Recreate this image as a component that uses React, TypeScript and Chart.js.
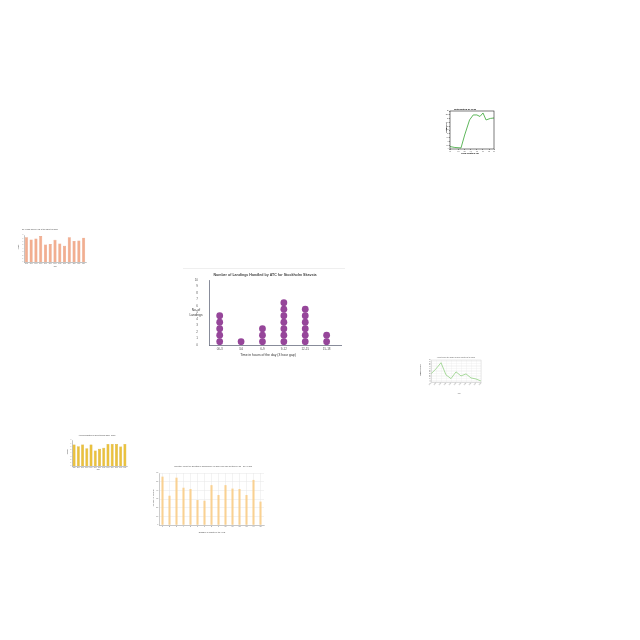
import React, { useEffect, useRef } from 'react';
import { Chart, registerables } from 'chart.js';
Chart.register(...registerables);

const FONT = "'Liberation Sans', Arial, sans-serif";

// ---- Main dot plot: landings ----
const landingSlots = ['00-3', '3-6', '6-9', '9-12', '12-15', '15-18'];
const landingCounts = [5, 1, 3, 7, 6, 2];

// ---- Top-right line chart ----
const sepalLengths = [4.3, 4.7, 5.2, 5.5, 5.9, 6.2, 6.5, 6.75, 7.0, 7.25, 7.6, 7.9];
const sepalFreq = [1.6, 1.0, 0.7, 9.2, 19.1, 22.4, 22.4, 21.4, 23.7, 19.1, 20.1, 20.4];

// ---- Salmon bar chart ----
const salmonYears = ['2005', '2006', '2007', '2008', '2009', '2010', '2011', '2012', '2013', '2014', '2015', '2016', '2017'];
const salmonValues = [7.3, 6.7, 7.0, 7.7, 5.2, 5.3, 6.6, 5.5, 4.8, 7.3, 6.2, 6.4, 7.2];

// ---- Gold bar chart ----
const goldYears = ['2005', '2006', '2007', '2008', '2009', '2010', '2011', '2012', '2013', '2014', '2015', '2016', '2017'];
const goldValues = [6.6, 6.1, 6.6, 5.5, 6.6, 4.8, 5.3, 5.6, 6.8, 6.8, 6.8, 6.0, 6.8];

// ---- Orange bar chart ----
const monthLabels = ['1', '2', '3', '4', '5', '6', '7', '8', '9', '10', '11', '12', '13', '14', '15'];
const deathValues = [55.8, 33.8, 54.6, 43, 41.5, 28.8, 28, 46, 34.6, 46, 42, 41.5, 34.6, 52, 27];

// ---- Green line chart ----
const greenLabels = ['2008', '2009', '2010', '2011', '2012', '2013', '2014', '2015', '2016', '2017', '2018'];
const greenValues = [24, 39, 57, 21, 10, 30, 18, 24, 12, 9, 3];

type TextItem = { text: string; x: number; y: number; size: number; bold?: boolean; color?: string; rotate?: number };

function textPlugin(items: TextItem[]) {
  return {
    id: 'overlayText',
    afterDraw(chart: any) {
      const ctx = chart.ctx;
      items.forEach((it) => {
        ctx.save();
        ctx.font = `${it.bold ? 'bold ' : ''}${it.size}px ${FONT}`;
        ctx.fillStyle = it.color || '#333';
        ctx.textAlign = 'center';
        ctx.textBaseline = 'middle';
        ctx.translate(it.x, it.y);
        if (it.rotate) ctx.rotate(it.rotate);
        ctx.fillText(it.text, 0, 0);
        ctx.restore();
      });
    },
  };
}

// draws category labels under the x axis at the positions the scale gives
function categoryLabelPlugin(labels: string[], size: number, color: string, gap: number) {
  return {
    id: 'catLabels',
    afterDraw(chart: any) {
      const xs = chart.scales.x;
      const ctx = chart.ctx;
      ctx.save();
      ctx.font = `${size}px ${FONT}`;
      ctx.fillStyle = color;
      ctx.textAlign = 'center';
      ctx.textBaseline = 'top';
      labels.forEach((l, i) => ctx.fillText(l, xs.getPixelForValue(i), xs.top + gap));
      ctx.restore();
    },
  };
}

function framePlugin(color: string, width: number) {
  return {
    id: 'frame',
    afterDatasetsDraw(chart: any) {
      const { left, top, right, bottom } = chart.chartArea;
      const ctx = chart.ctx;
      ctx.save();
      ctx.strokeStyle = color;
      ctx.lineWidth = width;
      ctx.strokeRect(left, top, right - left, bottom - top);
      ctx.restore();
    },
  };
}

const fitW = (w: number) => (s: any) => { s.width = w; };
const fitH = (h: number) => (s: any) => { s.height = h; };

const basePlugins = { legend: { display: false }, tooltip: { enabled: false }, title: { display: false } };

function mainConfig(): any {
  const pts = landingCounts.flatMap((n, i) => Array.from({ length: n }, (_, k) => ({ x: i, y: k + 0.5 })));
  return {
    type: 'scatter',
    data: { datasets: [{ data: pts, pointRadius: 3.4, pointHoverRadius: 3.4, backgroundColor: '#96469a', borderColor: '#96469a', borderWidth: 0 }] },
    options: {
      responsive: false, animation: false, events: [],
      layout: { padding: { left: 0, top: 14, right: 2, bottom: 8 } },
      plugins: basePlugins,
      scales: {
        x: {
          type: 'linear', min: -0.5, max: 5.7, afterFit: fitH(10),
          ticks: { display: false },
          grid: { display: false }, border: { display: true, color: '#6a6f80', width: 0.8 },
        },
        y: {
          min: 0, max: 10, afterFit: fitW(26),
          ticks: { stepSize: 1, autoSkip: false, font: { size: 3, family: FONT }, color: '#555', padding: 3 },
          grid: { display: false }, border: { display: true, color: '#6a6f80', width: 0.8 },
        },
      },
    },
    plugins: [categoryLabelPlugin(landingSlots, 3, '#555', 2.3), textPlugin([
      { text: 'Number of Landings Handled by ATC for Stockholm Skavsta', x: 82, y: 9, size: 3.6, bold: true, color: '#444' },
      { text: 'No. of', x: 13, y: 44, size: 3.2, color: '#333' },
      { text: 'Landings', x: 13, y: 49.5, size: 3.2, color: '#333' },
      { text: 'Time in hours of the day (3 hour gap)', x: 85, y: 89, size: 3.4, color: '#333' },
    ])],
  };
}

function topRightConfig(): any {
  return {
    type: 'scatter',
    data: { datasets: [{ data: sepalLengths.map((x, i) => ({ x, y: sepalFreq[i] })), showLine: true, pointRadius: 0, borderColor: '#4daf4a', borderWidth: 0.9, tension: 0 }] },
    options: {
      responsive: false, animation: false, events: [],
      layout: { padding: { left: 0, top: 7, right: 4, bottom: 5 } },
      plugins: basePlugins,
      scales: {
        x: {
          type: 'linear', min: 4.3, max: 7.9, afterFit: fitH(4),
          ticks: { stepSize: 0.5, autoSkip: false, font: { size: 1.4, family: FONT }, color: '#333', padding: 0.5, maxRotation: 0 },
          grid: { drawOnChartArea: false, tickLength: 1, color: '#000', lineWidth: 0.4 }, border: { display: false },
        },
        y: {
          min: 0, max: 25, afterFit: fitW(10),
          ticks: { stepSize: 2.5, autoSkip: false, font: { size: 1.4, family: FONT }, color: '#333', padding: 0.5 },
          grid: { drawOnChartArea: false, tickLength: 1, color: '#000', lineWidth: 0.4 }, border: { display: false },
        },
      },
    },
    plugins: [framePlugin('#222', 0.6), textPlugin([
      { text: 'distribution of PPM', x: 25, y: 5, size: 2.4, bold: true, color: '#000' },
      { text: 'sepal length in cm', x: 30, y: 49, size: 2, bold: true, color: '#000' },
      { text: 'frequency', x: 6.5, y: 24, size: 2, bold: true, color: '#000', rotate: -Math.PI / 2 },
    ])],
  };
}

function barConfig(o: any): any {
  return {
    type: 'bar',
    data: { labels: o.labels, datasets: [{ data: o.values, backgroundColor: o.color, borderColor: o.border, borderWidth: o.borderWidth ?? 0, barPercentage: o.barPct, categoryPercentage: 1 }] },
    options: {
      responsive: false, animation: false, events: [],
      layout: { padding: o.pad },
      plugins: basePlugins,
      scales: {
        x: {
          afterFit: fitH(o.xh),
          ticks: { font: { size: o.tick, family: FONT }, color: '#666', padding: 0.6, maxRotation: 0, minRotation: 0, autoSkip: false },
          grid: { display: !!o.grid, color: o.gridColor, lineWidth: 0.5, drawTicks: false, offset: false },
          border: { color: o.axisColor, width: 0.5 },
        },
        y: {
          min: 0, max: o.yMax, afterFit: fitW(o.yw),
          ticks: { stepSize: o.yStep, autoSkip: false, font: { size: o.tick, family: FONT }, color: '#666', padding: 0.8 },
          grid: { display: !!o.grid, color: o.gridColor, lineWidth: 0.5, drawTicks: false },
          border: { color: o.axisColor, width: 0.5 },
        },
      },
    },
    plugins: [textPlugin(o.texts)],
  };
}

function salmonConfig(): any {
  return barConfig({
    labels: salmonYears, values: salmonValues, color: 'rgba(240,160,125,0.85)', border: '#e08a68', borderWidth: 0.4, barPct: 0.65,
    pad: { left: 0, top: 9, right: 4, bottom: 5 }, xh: 3, yw: 9, yMax: 8, yStep: 1, tick: 1.3, axisColor: '#888',
    texts: [
      { text: 'No. of cars sold per year in the market (in lakhs)', x: 25, y: 4, size: 1.7, color: '#444' },
      { text: 'Year', x: 40, y: 41, size: 1.6, color: '#444' },
      { text: 'Count', x: 4, y: 21, size: 1.6, color: '#444', rotate: -Math.PI / 2 },
    ],
  });
}

function goldConfig(): any {
  return barConfig({
    labels: goldYears, values: goldValues, color: 'rgba(232,186,40,0.9)', border: '#c99a10', borderWidth: 0.4, barPct: 0.7,
    pad: { left: 0, top: 8, right: 3, bottom: 5 }, xh: 3, yw: 8, yMax: 8, yStep: 1, tick: 1.3, axisColor: '#888',
    texts: [
      { text: 'Annual production of gold in tonnes (2005 - 2017)', x: 33, y: 4, size: 1.7, color: '#444' },
      { text: 'Year', x: 34, y: 38, size: 1.6, color: '#444' },
      { text: 'Tonnes', x: 4, y: 20, size: 1.6, color: '#444', rotate: -Math.PI / 2 },
    ],
  });
}

function orangeConfig(): any {
  return barConfig({
    labels: monthLabels, values: deathValues, color: 'rgba(250,205,135,0.9)', border: '#f5bf70', borderWidth: 0, barPct: 0.3,
    pad: { left: 0, top: 11, right: 4, bottom: 7 }, xh: 4, yw: 9, yMax: 60, yStep: 10, tick: 1.8, axisColor: '#999', grid: true, gridColor: '#e6e6e6',
    texts: [
      { text: 'Monthly count of Deaths in Singapore in 2016 for age between 21 - 30 years', x: 63, y: 4, size: 2.3, color: '#555' },
      { text: 'Number of Month of the Year', x: 62, y: 70, size: 2.1, color: '#444' },
      { text: 'Number of Deaths', x: 3, y: 36, size: 2.1, color: '#444', rotate: -Math.PI / 2 },
    ],
  });
}

function greenConfig(): any {
  return {
    type: 'line',
    data: { labels: greenLabels, datasets: [{ data: greenValues, borderColor: '#93d184', borderWidth: 0.8, pointRadius: 0, tension: 0, fill: false }] },
    options: {
      responsive: false, animation: false, events: [],
      layout: { padding: { left: 0, top: 6, right: 5, bottom: 8 } },
      plugins: basePlugins,
      scales: {
        x: {
          afterFit: fitH(8),
          ticks: { font: { size: 1.3, family: FONT }, color: '#666', padding: 0.5, maxRotation: 45, minRotation: 45, autoSkip: false },
          grid: { color: '#eeeeee', lineWidth: 0.4, drawTicks: false }, border: { color: '#bbb', width: 0.4 },
        },
        y: {
          min: 0, max: 65, afterFit: fitW(15),
          ticks: { stepSize: 5, autoSkip: false, font: { size: 1.3, family: FONT }, color: '#666', padding: 0.6 },
          grid: { color: '#eeeeee', lineWidth: 0.4, drawTicks: false }, border: { color: '#bbb', width: 0.4 },
        },
      },
    },
    plugins: [framePlugin('#d8d8d8', 0.5), textPlugin([
      { text: 'Yearly trend of the number of cases reported in the region', x: 40, y: 4, size: 1.5, color: '#555' },
      { text: 'Year', x: 43, y: 40, size: 1.5, color: '#555' },
      { text: 'Number of cases', x: 5, y: 16, size: 1.5, color: '#555', rotate: -Math.PI / 2 },
    ])],
  };
}

function ChartBox({ left, top, width, height, make }: { left: number; top: number; width: number; height: number; make: () => any }) {
  const ref = useRef<HTMLCanvasElement>(null);
  useEffect(() => {
    const chart = new Chart(ref.current as HTMLCanvasElement, make());
    return () => chart.destroy();
  }, []);
  return (
    <canvas
      ref={ref}
      width={width}
      height={height}
      style={{ position: 'absolute', left, top, width, height, display: 'block' }}
    />
  );
}

export default function App() {
  return (
    <div style={{ position: 'absolute', left: 0, top: 0, width: 640, height: 640, background: '#fff', overflow: 'hidden' }}>
      <div style={{ position: 'absolute', left: 183, top: 268, width: 162, height: 1, background: '#efefef' }} />
      <ChartBox left={183} top={266} width={162} height={97} make={mainConfig} />
      <ChartBox left={440} top={104} width={58} height={54} make={topRightConfig} />
      <ChartBox left={15} top={226} width={75} height={44} make={salmonConfig} />
      <ChartBox left={64} top={432} width={66} height={42} make={goldConfig} />
      <ChartBox left={150} top={462} width={118} height={74} make={orangeConfig} />
      <ChartBox left={416} top={354} width={70} height={44} make={greenConfig} />
    </div>
  );
}
